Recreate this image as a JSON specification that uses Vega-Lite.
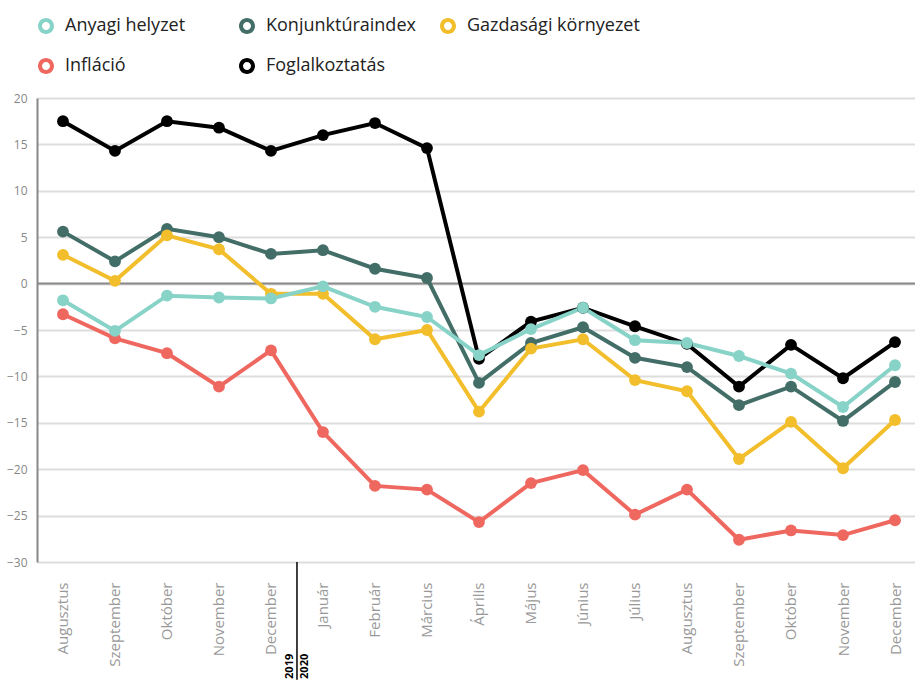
{
  "$schema": "https://vega.github.io/schema/vega-lite/v6.json",
  "width": 878,
  "height": 464,
  "padding": {"left": 6, "top": 17, "right": 0, "bottom": 0},
  "autosize": {"type": "pad"},
  "config": {
    "view": {"stroke": null},
    "font": "Open Sans"
  },
  "data": {"values": [
    {"honap": "Augusztus 2019", "sorozat": "Foglalkoztatás", "ertek": 17.5},
    {"honap": "Szeptember 2019", "sorozat": "Foglalkoztatás", "ertek": 14.3},
    {"honap": "Október 2019", "sorozat": "Foglalkoztatás", "ertek": 17.5},
    {"honap": "November 2019", "sorozat": "Foglalkoztatás", "ertek": 16.8},
    {"honap": "December 2019", "sorozat": "Foglalkoztatás", "ertek": 14.3},
    {"honap": "Január 2020", "sorozat": "Foglalkoztatás", "ertek": 16.0},
    {"honap": "Február 2020", "sorozat": "Foglalkoztatás", "ertek": 17.3},
    {"honap": "Március 2020", "sorozat": "Foglalkoztatás", "ertek": 14.6},
    {"honap": "Április 2020", "sorozat": "Foglalkoztatás", "ertek": -8.1},
    {"honap": "Május 2020", "sorozat": "Foglalkoztatás", "ertek": -4.1},
    {"honap": "Június 2020", "sorozat": "Foglalkoztatás", "ertek": -2.6},
    {"honap": "Július 2020", "sorozat": "Foglalkoztatás", "ertek": -4.6},
    {"honap": "Augusztus 2020", "sorozat": "Foglalkoztatás", "ertek": -6.5},
    {"honap": "Szeptember 2020", "sorozat": "Foglalkoztatás", "ertek": -11.1},
    {"honap": "Október 2020", "sorozat": "Foglalkoztatás", "ertek": -6.6},
    {"honap": "November 2020", "sorozat": "Foglalkoztatás", "ertek": -10.2},
    {"honap": "December 2020", "sorozat": "Foglalkoztatás", "ertek": -6.3},
    {"honap": "Augusztus 2019", "sorozat": "Infláció", "ertek": -3.3},
    {"honap": "Szeptember 2019", "sorozat": "Infláció", "ertek": -5.9},
    {"honap": "Október 2019", "sorozat": "Infláció", "ertek": -7.5},
    {"honap": "November 2019", "sorozat": "Infláció", "ertek": -11.1},
    {"honap": "December 2019", "sorozat": "Infláció", "ertek": -7.2},
    {"honap": "Január 2020", "sorozat": "Infláció", "ertek": -16.0},
    {"honap": "Február 2020", "sorozat": "Infláció", "ertek": -21.8},
    {"honap": "Március 2020", "sorozat": "Infláció", "ertek": -22.2},
    {"honap": "Április 2020", "sorozat": "Infláció", "ertek": -25.7},
    {"honap": "Május 2020", "sorozat": "Infláció", "ertek": -21.5},
    {"honap": "Június 2020", "sorozat": "Infláció", "ertek": -20.1},
    {"honap": "Július 2020", "sorozat": "Infláció", "ertek": -24.9},
    {"honap": "Augusztus 2020", "sorozat": "Infláció", "ertek": -22.2},
    {"honap": "Szeptember 2020", "sorozat": "Infláció", "ertek": -27.6},
    {"honap": "Október 2020", "sorozat": "Infláció", "ertek": -26.6},
    {"honap": "November 2020", "sorozat": "Infláció", "ertek": -27.1},
    {"honap": "December 2020", "sorozat": "Infláció", "ertek": -25.5},
    {"honap": "Augusztus 2019", "sorozat": "Konjunktúraindex", "ertek": 5.6},
    {"honap": "Szeptember 2019", "sorozat": "Konjunktúraindex", "ertek": 2.4},
    {"honap": "Október 2019", "sorozat": "Konjunktúraindex", "ertek": 5.9},
    {"honap": "November 2019", "sorozat": "Konjunktúraindex", "ertek": 5.0},
    {"honap": "December 2019", "sorozat": "Konjunktúraindex", "ertek": 3.2},
    {"honap": "Január 2020", "sorozat": "Konjunktúraindex", "ertek": 3.6},
    {"honap": "Február 2020", "sorozat": "Konjunktúraindex", "ertek": 1.6},
    {"honap": "Március 2020", "sorozat": "Konjunktúraindex", "ertek": 0.6},
    {"honap": "Április 2020", "sorozat": "Konjunktúraindex", "ertek": -10.7},
    {"honap": "Május 2020", "sorozat": "Konjunktúraindex", "ertek": -6.4},
    {"honap": "Június 2020", "sorozat": "Konjunktúraindex", "ertek": -4.7},
    {"honap": "Július 2020", "sorozat": "Konjunktúraindex", "ertek": -8.0},
    {"honap": "Augusztus 2020", "sorozat": "Konjunktúraindex", "ertek": -9.0},
    {"honap": "Szeptember 2020", "sorozat": "Konjunktúraindex", "ertek": -13.1},
    {"honap": "Október 2020", "sorozat": "Konjunktúraindex", "ertek": -11.1},
    {"honap": "November 2020", "sorozat": "Konjunktúraindex", "ertek": -14.8},
    {"honap": "December 2020", "sorozat": "Konjunktúraindex", "ertek": -10.6},
    {"honap": "Augusztus 2019", "sorozat": "Gazdasági környezet", "ertek": 3.1},
    {"honap": "Szeptember 2019", "sorozat": "Gazdasági környezet", "ertek": 0.3},
    {"honap": "Október 2019", "sorozat": "Gazdasági környezet", "ertek": 5.2},
    {"honap": "November 2019", "sorozat": "Gazdasági környezet", "ertek": 3.7},
    {"honap": "December 2019", "sorozat": "Gazdasági környezet", "ertek": -1.1},
    {"honap": "Január 2020", "sorozat": "Gazdasági környezet", "ertek": -1.1},
    {"honap": "Február 2020", "sorozat": "Gazdasági környezet", "ertek": -6.0},
    {"honap": "Március 2020", "sorozat": "Gazdasági környezet", "ertek": -5.0},
    {"honap": "Április 2020", "sorozat": "Gazdasági környezet", "ertek": -13.8},
    {"honap": "Május 2020", "sorozat": "Gazdasági környezet", "ertek": -7.0},
    {"honap": "Június 2020", "sorozat": "Gazdasági környezet", "ertek": -6.0},
    {"honap": "Július 2020", "sorozat": "Gazdasági környezet", "ertek": -10.4},
    {"honap": "Augusztus 2020", "sorozat": "Gazdasági környezet", "ertek": -11.6},
    {"honap": "Szeptember 2020", "sorozat": "Gazdasági környezet", "ertek": -18.9},
    {"honap": "Október 2020", "sorozat": "Gazdasági környezet", "ertek": -14.9},
    {"honap": "November 2020", "sorozat": "Gazdasági környezet", "ertek": -19.9},
    {"honap": "December 2020", "sorozat": "Gazdasági környezet", "ertek": -14.7},
    {"honap": "Augusztus 2019", "sorozat": "Anyagi helyzet", "ertek": -1.8},
    {"honap": "Szeptember 2019", "sorozat": "Anyagi helyzet", "ertek": -5.1},
    {"honap": "Október 2019", "sorozat": "Anyagi helyzet", "ertek": -1.3},
    {"honap": "November 2019", "sorozat": "Anyagi helyzet", "ertek": -1.5},
    {"honap": "December 2019", "sorozat": "Anyagi helyzet", "ertek": -1.6},
    {"honap": "Január 2020", "sorozat": "Anyagi helyzet", "ertek": -0.3},
    {"honap": "Február 2020", "sorozat": "Anyagi helyzet", "ertek": -2.5},
    {"honap": "Március 2020", "sorozat": "Anyagi helyzet", "ertek": -3.6},
    {"honap": "Április 2020", "sorozat": "Anyagi helyzet", "ertek": -7.7},
    {"honap": "Május 2020", "sorozat": "Anyagi helyzet", "ertek": -4.9},
    {"honap": "Június 2020", "sorozat": "Anyagi helyzet", "ertek": -2.6},
    {"honap": "Július 2020", "sorozat": "Anyagi helyzet", "ertek": -6.1},
    {"honap": "Augusztus 2020", "sorozat": "Anyagi helyzet", "ertek": -6.4},
    {"honap": "Szeptember 2020", "sorozat": "Anyagi helyzet", "ertek": -7.8},
    {"honap": "Október 2020", "sorozat": "Anyagi helyzet", "ertek": -9.7},
    {"honap": "November 2020", "sorozat": "Anyagi helyzet", "ertek": -13.3},
    {"honap": "December 2020", "sorozat": "Anyagi helyzet", "ertek": -8.8}
  ]},
  "encoding": {
    "x": {
      "field": "honap",
      "type": "nominal",
      "sort": ["Augusztus 2019","Szeptember 2019","Október 2019","November 2019","December 2019","Január 2020","Február 2020","Március 2020","Április 2020","Május 2020","Június 2020","Július 2020","Augusztus 2020","Szeptember 2020","Október 2020","November 2020","December 2020"],
      "scale": {"type": "point", "padding": 0.442, "align": 0.565},
      "axis": {
        "title": null,
        "labelExpr": "split(datum.label, ' ')[0]",
        "labelAngle": -90,
        "labelPadding": 20,
        "labelFontSize": 15,
        "labelColor": "#999",
        "ticks": false,
        "domain": false,
        "grid": false
      }
    },
    "y": {
      "field": "ertek",
      "type": "quantitative",
      "scale": {"domain": [-30, 20], "nice": false},
      "axis": {
        "title": null,
        "values": [-30, -25, -20, -15, -10, -5, 0, 5, 10, 15, 20],
        "labelFontSize": 12,
        "labelColor": "#888",
        "labelPadding": 10,
        "ticks": false,
        "domainColor": "#888",
        "domainWidth": 2,
        "gridColor": "#dddddd",
        "gridWidth": 2
      }
    }
  },
  "layer": [
    {
      "data": {"values": [{"nulla": 0}]},
      "mark": {"type": "rule", "color": "#888", "strokeWidth": 2},
      "encoding": {"x": null, "y": {"field": "nulla", "type": "quantitative"}}
    },
    {
      "mark": {"type": "line", "strokeWidth": 4},
      "encoding": {
        "stroke": {
          "field": "sorozat",
          "type": "nominal",
          "scale": {
            "domain": ["Anyagi helyzet", "Konjunktúraindex", "Gazdasági környezet", "Infláció", "Foglalkoztatás"],
            "range": ["#88d3c8", "#436e68", "#f2be2c", "#ef6860", "#000000"]
          },
          "legend": {
            "title": null,
            "orient": "top",
            "direction": "horizontal",
            "columns": 3,
            "gridAlign": "all",
            "columnPadding": 0,
            "rowPadding": 22,
            "symbolType": "M-1,0A1,1,0,1,0,1,0A1,1,0,1,0,-1,0ZM-0.5,0A0.5,0.5,0,1,1,0.5,0A0.5,0.5,0,1,1,-0.5,0Z",
            "symbolSize": 256,
            "symbolStrokeWidth": 0,
            "symbolOffset": 0,
            "labelFontSize": 18,
            "labelColor": "#222",
            "labelOffset": 10,
            "labelLimit": 300,
            "offset": 23
          }
        }
      }
    },
    {
      "mark": {"type": "point", "shape": "circle", "filled": true, "size": 140, "opacity": 1, "strokeWidth": 0},
      "encoding": {
        "fill": {
          "field": "sorozat",
          "type": "nominal",
          "scale": {
            "domain": ["Anyagi helyzet", "Konjunktúraindex", "Gazdasági környezet", "Infláció", "Foglalkoztatás"],
            "range": ["#88d3c8", "#436e68", "#f2be2c", "#ef6860", "#000000"]
          },
          "legend": null
        }
      }
    },
    {
      "data": {"values": [{"honap": "December 2019", "ertek": -30, "ertek2": -42.7}]},
      "mark": {"type": "rule", "color": "#000", "strokeWidth": 1.5, "xOffset": 26, "clip": false},
      "encoding": {"y2": {"field": "ertek2"}}
    },
    {
      "data": {"values": [{"honap": "December 2019", "ertek": -42.6, "ev": "2019"}]},
      "mark": {"type": "text", "angle": 270, "align": "left", "baseline": "bottom", "xOffset": 24, "fontSize": 11, "fontWeight": "bold", "color": "#000"},
      "encoding": {"text": {"field": "ev"}}
    },
    {
      "data": {"values": [{"honap": "December 2019", "ertek": -42.6, "ev": "2020"}]},
      "mark": {"type": "text", "angle": 270, "align": "left", "baseline": "top", "xOffset": 28, "fontSize": 11, "fontWeight": "bold", "color": "#000"},
      "encoding": {"text": {"field": "ev"}}
    }
  ]
}
